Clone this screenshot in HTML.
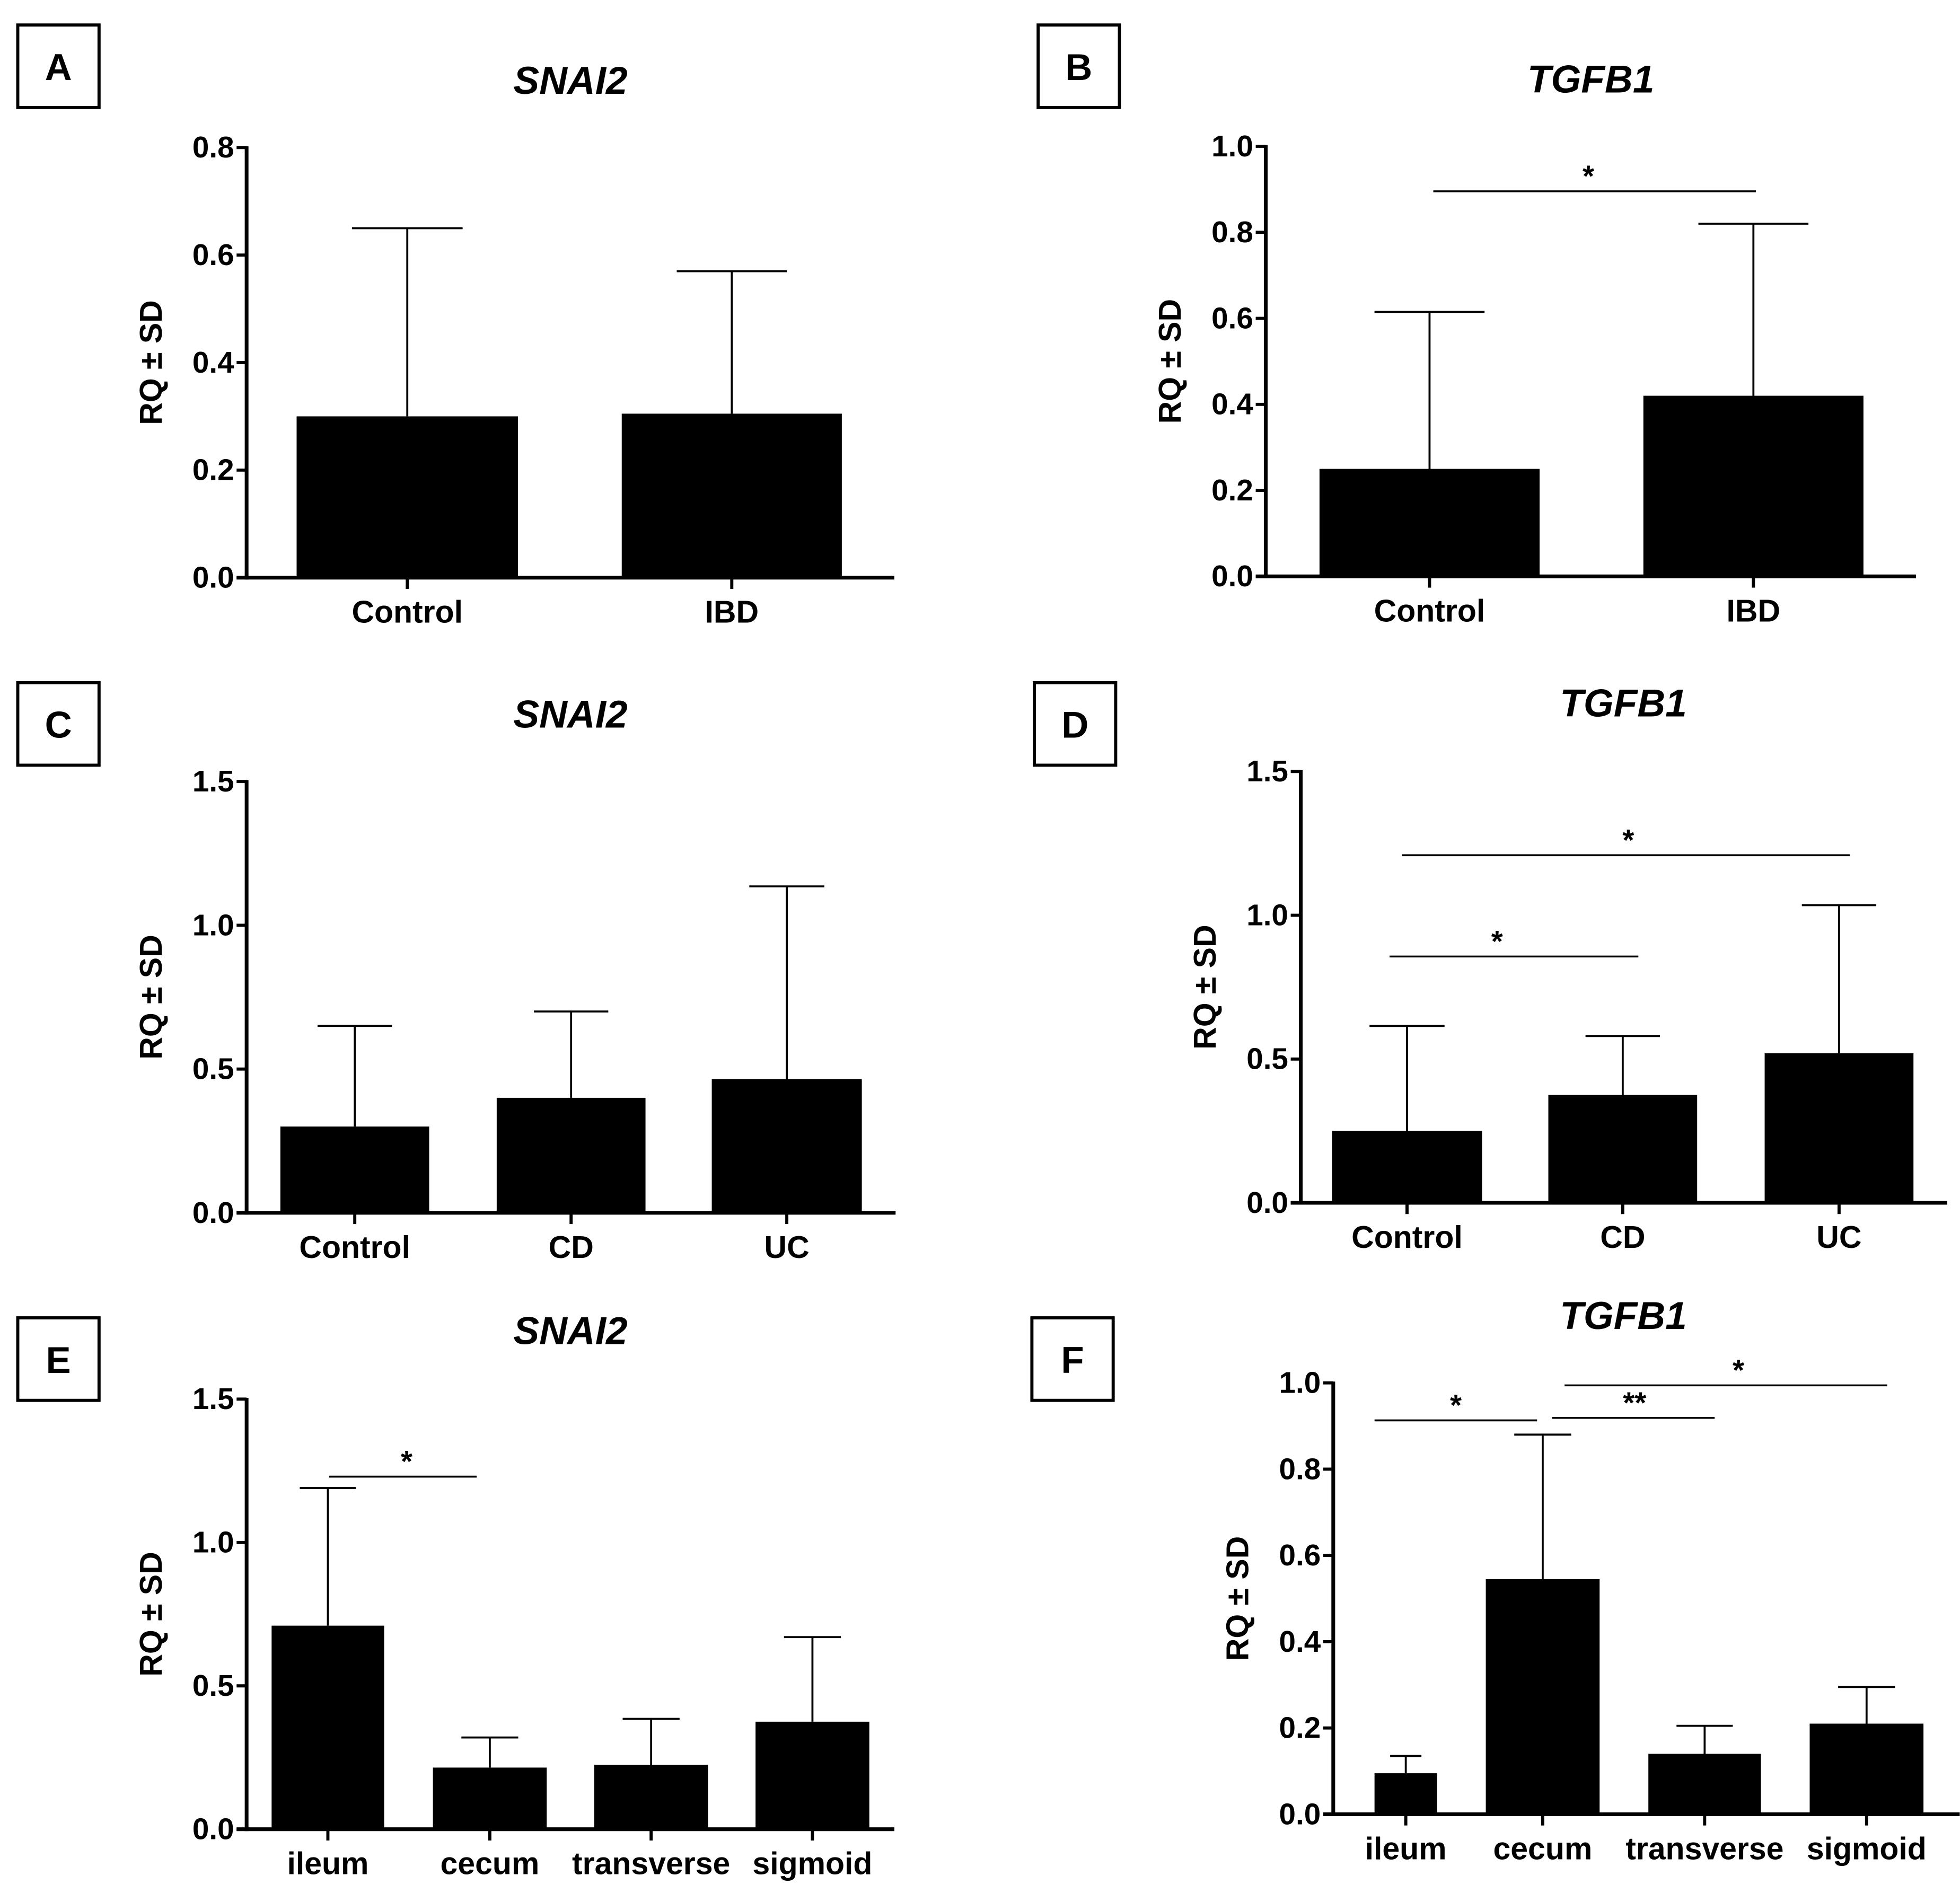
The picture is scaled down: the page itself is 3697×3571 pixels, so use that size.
<!DOCTYPE html>
<html><head><meta charset="utf-8"><style>
html,body{margin:0;padding:0;background:#fff}
svg{display:block}
text{font-family:"Liberation Sans",Arial,sans-serif;font-weight:bold;fill:#000}
</style></head><body>
<svg id="fig" width="3697" height="3571" viewBox="0 0 1567 1514" xmlns="http://www.w3.org/2000/svg"></svg>
<script>
// Panel A
const catsA = ["Control","IBD"];
const valsA = [0.30,0.305];
const errsA = [0.65,0.57];
const ticksA = ["0.0","0.2","0.4","0.6","0.8"];
// Panel B
const catsB = ["Control","IBD"];
const valsB = [0.25,0.42];
const errsB = [0.615,0.82];
const ticksB = ["0.0","0.2","0.4","0.6","0.8","1.0"];
// Panel C
const catsC = ["Control","CD","UC"];
const valsC = [0.30,0.40,0.465];
const errsC = [0.65,0.70,1.135];
const ticksC = ["0.0","0.5","1.0","1.5"];
// Panel D
const catsD = ["Control","CD","UC"];
const valsD = [0.25,0.375,0.52];
const errsD = [0.615,0.58,1.035];
const ticksD = ["0.0","0.5","1.0","1.5"];
// Panel E
const catsE = ["ileum","cecum","transverse","sigmoid"];
const valsE = [0.71,0.215,0.225,0.375];
const errsE = [1.19,0.32,0.385,0.67];
const ticksE = ["0.0","0.5","1.0","1.5"];
// Panel F
const catsF = ["ileum","cecum","transverse","sigmoid"];
const valsF = [0.095,0.545,0.14,0.21];
const errsF = [0.135,0.88,0.205,0.295];
const ticksF = ["0.0","0.2","0.4","0.6","0.8","1.0"];

const NS="http://www.w3.org/2000/svg";
const svg=document.getElementById('fig');
function mk(tag,attrs,parent,txt){const e=document.createElementNS(NS,tag);for(const k in attrs)e.setAttribute(k,attrs[k]);if(txt!==undefined)e.textContent=txt;(parent||svg).appendChild(e);return e;}

const panels=[
 {id:"a",letter:"A",box:[14,20],title:"SNAI2",tx:456,ty:75,ax:197,y0:462,y1:118,ymax:0.8,xend:715,bars:[[237,414],[497,673]],cats:catsA,vals:valsA,errs:errsA,ticks:ticksA,sig:[]},
 {id:"b",letter:"B",box:[830,20],title:"TGFB1",tx:1272,ty:74,ax:1012,y0:461,y1:117,ymax:1.0,xend:1532,bars:[[1055,1231],[1314,1490]],cats:catsB,vals:valsB,errs:errsB,ticks:ticksB,sig:[[1146,1404,153,1270,"*"]]},
 {id:"c",letter:"C",box:[14,546],title:"SNAI2",tx:456,ty:582,ax:197,y0:970,y1:625,ymax:1.5,xend:716,bars:[[224,343],[397,516],[569,689]],cats:catsC,vals:valsC,errs:errsC,ticks:ticksC,sig:[]},
 {id:"d",letter:"D",box:[827,546],title:"TGFB1",tx:1298,ty:573,ax:1040,y0:962,y1:617,ymax:1.5,xend:1557,bars:[[1065,1185],[1238,1357],[1411,1530]],cats:catsD,vals:valsD,errs:errsD,ticks:ticksD,sig:[[1111,1310,765,1197,"*"],[1121,1479,684,1302,"*"]]},
 {id:"e",letter:"E",box:[14,1054],title:"SNAI2",tx:456,ty:1075,ax:197,y0:1463,y1:1119,ymax:1.5,xend:715,bars:[[217,307],[346,437],[475,566],[604,695]],cats:catsE,vals:valsE,errs:errsE,ticks:ticksE,sig:[[263,381,1181,325,"*"]]},
 {id:"f",letter:"F",box:[825,1054],title:"TGFB1",tx:1298,ty:1063,ax:1066,y0:1451,y1:1106,ymax:1.0,xend:1567,bars:[[1099,1149],[1188,1279],[1318,1408],[1447,1538]],cats:catsF,vals:valsF,errs:errsF,ticks:ticksF,sig:[[1099,1229,1136,1164,"*"],[1241,1371,1134,1307,"**"],[1251,1509,1108,1390,"*"]]}
];

panels.forEach(p=>{
 const g=mk('g',{});
 
 
 const y=v=>p.y0-(v/p.ymax)*(p.y0-p.y1);
 const lb=mk('g',{},g);
 
 
 mk('rect',{x:p.box[0],y:p.box[1],width:65,height:66,fill:'none',stroke:'#000','stroke-width':2.5},lb);
 mk('text',{x:p.box[0]+32.5,y:p.box[1]+44,'text-anchor':'middle','font-size':30},lb,p.letter);
 const t=mk('text',{x:p.tx,y:p.ty,'text-anchor':'middle','font-size':31,'font-style':'italic'},g,p.title);
 
 
 p.vals.forEach((v,i)=>{
  const [x0,x1]=p.bars[i];const cx=(x0+x1)/2;const w=x1-x0;
  const r=mk('rect',{x:x0,y:y(v),width:w,height:p.y0-y(v),fill:'#000'},g);
  
  
  const eb=mk('path',{d:`M${cx},${y(v)}V${y(p.errs[i])}M${cx-w/4},${y(p.errs[i])}H${cx+w/4}`,stroke:'#000','stroke-width':1.6,fill:'none'},g);
  
  
  mk('line',{x1:cx,x2:cx,y1:p.y0,y2:p.y0+9,stroke:'#000','stroke-width':2.5},g);
  const cl=mk('text',{x:cx,y:p.y0+36,'text-anchor':'middle','font-size':25},g,p.cats[i]);
  
  
 });
 const ya=mk('line',{x1:p.ax,x2:p.ax,y1:p.y1-1,y2:p.y0+1.5,stroke:'#000','stroke-width':3},g);
 
 
 const xa=mk('line',{x1:p.ax-8,x2:p.xend,y1:p.y0,y2:p.y0,stroke:'#000','stroke-width':3},g);
 
 
 p.ticks.forEach(tk=>{
  const yy=y(parseFloat(tk));
  mk('line',{x1:p.ax-8,x2:p.ax,y1:yy,y2:yy,stroke:'#000','stroke-width':2.5},g);
  const tl=mk('text',{x:p.ax-10,y:yy+8,'text-anchor':'end','font-size':24},g,tk);
  
  
 });
 const ym=(p.y0+p.y1)/2;
 const yt=mk('text',{x:0,y:0,'text-anchor':'middle','font-size':25,transform:`translate(${p.ax-68},${ym}) rotate(-90)`},g,'RQ ± SD');
 
 
 p.sig.forEach(s=>{
  const sl=mk('line',{x1:s[0],x2:s[1],y1:s[2],y2:s[2],stroke:'#000','stroke-width':1.5},g);
  
  
  mk('text',{x:s[3],y:s[2]-4,'text-anchor':'middle','font-size':24},g,s[4]);
 });
});
</script>
</body></html>
